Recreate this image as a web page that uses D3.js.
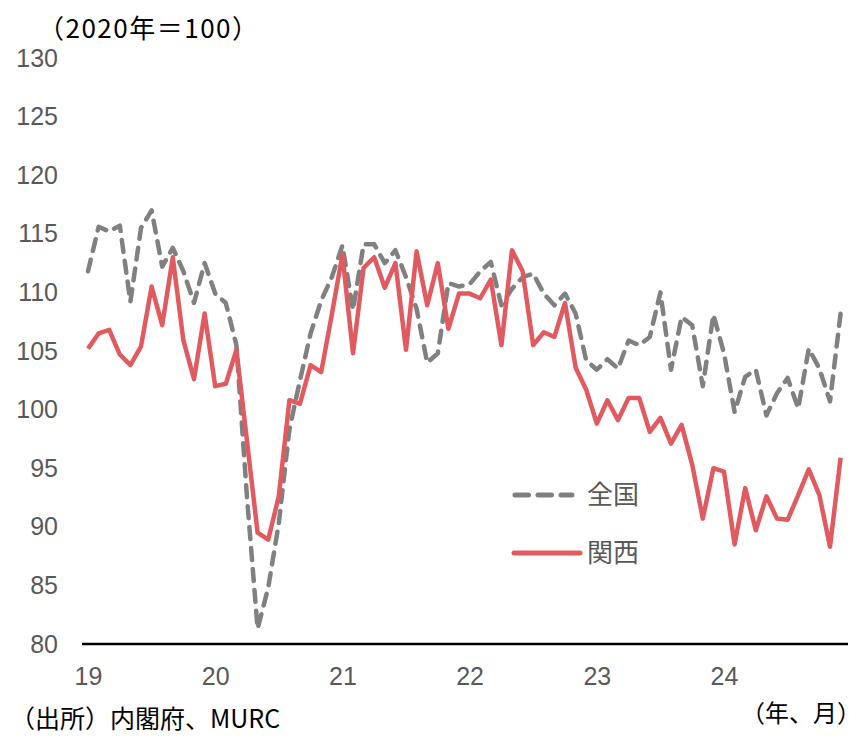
<!DOCTYPE html>
<html>
<head>
<meta charset="utf-8">
<script src="https://cdn.jsdelivr.net/npm/d3@7"></script>
<style>
  body { margin: 0; background: #fff; }
  svg { display: block; }
  .tick text { font-family: "Liberation Sans", Arial, sans-serif; }
</style>
</head>
<body>
<div id="chart"></div>
<script>
// 2019/1 .. 2024/12, monthly
const yearLabels = ["19", "20", "21", "22", "23", "24"];
const zenkoku = [
  111.8, 115.6, 115.2, 115.7, 109.2, 115.5, 117.0, 112.2, 113.8, 111.8, 109.1, 112.5,
  109.9, 109.1, 105.5, 92.5, 81.3, 84.8, 90.3, 98.3, 102.5, 106.5, 109.3, 111.3,
  114.0, 108.5, 114.1, 114.1, 112.5, 113.6, 111.3, 108.6, 104.0, 104.8, 110.8, 110.5,
  110.7, 111.8, 112.6, 108.9, 110.3, 111.3, 111.6, 109.9, 108.9, 109.9, 108.2, 104.2,
  103.4, 104.3, 103.5, 105.9, 105.5, 106.2, 110.0, 103.4, 107.9, 107.2, 102.0, 108.1,
  104.8, 99.8, 102.8, 103.4, 99.5, 101.4, 102.7, 100.1, 105.2, 103.5, 100.7, 108.2
];
const kansai = [
  105.2, 106.5, 106.8, 104.7, 103.8, 105.4, 110.5, 107.2, 113.0, 105.9, 102.6, 108.2,
  102.0, 102.2, 105.1, 97.3, 89.5, 88.9, 92.6, 100.8, 100.5, 103.8, 103.2, 108.1,
  113.2, 104.8, 112.1, 113.0, 110.4, 112.5, 105.1, 113.5, 108.9, 112.5, 106.9, 109.9,
  109.9, 109.5, 111.1, 105.5, 113.6, 111.8, 105.5, 106.6, 106.2, 109.1, 103.6, 101.7,
  98.8, 100.8, 99.1, 101.0, 101.0, 98.1, 99.3, 97.1, 98.7, 95.3, 90.7, 95.0,
  94.7, 88.5, 93.3, 89.7, 92.6, 90.7, 90.6, 92.7, 94.9, 92.7, 88.3, 95.9
];
const yTicks = [80, 85, 90, 95, 100, 105, 110, 115, 120, 125, 130];
const seriesNames = ["全国", "関西"];

const W = 862, H = 744;
const grayC = "#808080", redC = "#E05A60";
const svg = d3.select("#chart").append("svg").attr("width", W).attr("height", H);

const x = d3.scaleLinear().domain([0, 72]).range([88, 88 + 72 * 10.6]);
const y = d3.scaleLinear().domain([80, 130]).range([644, 58]);

// y axis labels
svg.append("g")
  .attr("class", "yAxisG")
  .attr("transform", "translate(58,0)")
  .call(d3.axisLeft(y).tickValues(yTicks).tickSize(0).tickPadding(0))
  .call(g => g.select(".domain").remove())
  .selectAll("text")
  .attr("fill", "#595959")
  .style("font-size", "25px");

// x axis labels
svg.append("g")
  .attr("class", "xAxisG")
  .attr("transform", "translate(0,667)")
  .call(d3.axisBottom(x).tickValues(d3.range(0, 72, 12)).tickFormat((d, i) => yearLabels[i]).tickSize(0).tickPadding(0))
  .call(g => g.select(".domain").remove())
  .selectAll("text")
  .attr("fill", "#595959")
  .style("font-size", "25px");

// baseline
svg.append("line")
  .attr("x1", 82).attr("x2", 848)
  .attr("y1", y(80)).attr("y2", y(80))
  .attr("stroke", "#000").attr("stroke-width", 2.5);

const line = d3.line().x((d, i) => x(i)).y(d => y(d));

svg.append("path")
  .datum(zenkoku)
  .attr("d", line)
  .attr("fill", "none")
  .attr("stroke", grayC)
  .attr("stroke-width", 4.5)
  .attr("stroke-dasharray", "12,9")
  .attr("stroke-linecap", "round")
  .attr("stroke-linejoin", "round");

svg.append("path")
  .datum(kansai)
  .attr("d", line)
  .attr("fill", "none")
  .attr("stroke", redC)
  .attr("stroke-width", 4.5)
  .attr("stroke-linejoin", "round");

// legend
const legend = svg.append("g").attr("class", "legend");
const legY = [495, 553];
legend.selectAll("line")
  .data(seriesNames)
  .join("line")
  .attr("x1", (d, i) => i == 0 ? 515 : 514)
  .attr("x2", (d, i) => i == 0 ? 572 : 580)
  .attr("y1", (d, i) => legY[i]).attr("y2", (d, i) => legY[i])
  .attr("stroke", (d, i) => i == 0 ? grayC : redC)
  .attr("stroke-width", 5)
  .attr("stroke-linecap", "round")
  .attr("stroke-dasharray", (d, i) => i == 0 ? "13.5,9.5" : null);
legend.selectAll("text")
  .data(seriesNames)
  .join("text")
  .attr("x", 587)
  .attr("y", (d, i) => legY[i] + 9)
  .attr("font-family", "Noto Sans CJK JP")
  .attr("font-size", 26)
  .attr("fill", "#595959")
  .text(d => d);

// titles and notes
const jp = "Noto Sans CJK JP";
svg.append("text").attr("x", 38).attr("y", 38)
  .attr("font-family", jp).attr("font-size", 26).attr("letter-spacing", 1.5)
  .text("（2020年＝100）");
svg.append("text").attr("x", 10).attr("y", 728)
  .attr("font-family", jp).attr("font-size", 25).text("（出所）内閣府、MURC");
svg.append("text").attr("x", 861).attr("y", 722).attr("text-anchor", "end")
  .attr("font-family", jp).attr("font-size", 24).text("（年、月）");
</script>
</body>
</html>
